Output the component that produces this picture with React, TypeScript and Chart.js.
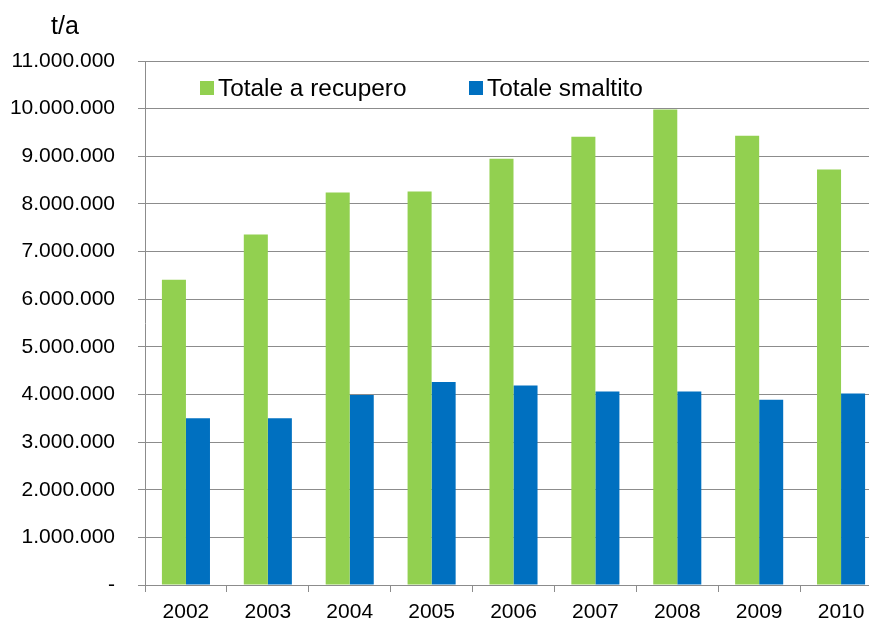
import React, { useEffect, useRef } from "react";
import { Chart, registerables } from "chart.js";

Chart.register(...registerables);

const years = ["2002", "2003", "2004", "2005", "2006", "2007", "2008", "2009", "2010"];
const recupero = [6410000, 7360000, 8240000, 8260000, 8950000, 9410000, 9980000, 9430000, 8720000];
const smaltito = [3500000, 3500000, 3990000, 4260000, 4190000, 4060000, 4060000, 3890000, 4020000];
const seriesNames = ["Totale a recupero", "Totale smaltito"];
const seriesColors = ["#92d050", "#0070c0"];
const unitLabel = "t/a";

const GRID = "#8c8c8c";
const FONT = "'Liberation Sans', Arial, sans-serif";

function fmt(v: number): string {
  if (v === 0) return "-";
  return Math.round(v).toString().replace(/\B(?=(\d{3})+(?!\d))/g, ".");
}

const overlay = {
  id: "overlay",
  afterDatasetsDraw(chart: any) {
    const ctx = chart.ctx;
    const area = chart.chartArea;
    ctx.save();
    ctx.fillStyle = "#000";
    ctx.font = `25px ${FONT}`;
    ctx.textAlign = "center";
    ctx.textBaseline = "alphabetic";
    ctx.fillText(unitLabel, 65, 34);
    ctx.font = `24.4px ${FONT}`;
    ctx.textAlign = "left";
    ctx.textBaseline = "middle";
    const cy = area.top + 27;
    const starts = [area.left + 55, area.left + 324];
    seriesNames.forEach((name, i) => {
      ctx.fillStyle = seriesColors[i];
      ctx.fillRect(starts[i], cy - 7, 14, 14);
      ctx.fillStyle = "#000";
      ctx.fillText(name, starts[i] + 18, cy + 1);
    });
    ctx.restore();
  },
};

export default function App() {
  const ref = useRef<HTMLCanvasElement | null>(null);
  useEffect(() => {
    document.body.style.margin = "0";
    document.body.style.overflow = "hidden";
    const canvas = ref.current;
    if (!canvas) return;
    const chart = new Chart(canvas, {
      type: "bar",
      data: {
        labels: years,
        datasets: [
          { label: seriesNames[0], data: recupero, backgroundColor: seriesColors[0] },
          { label: seriesNames[1], data: smaltito, backgroundColor: seriesColors[1] },
        ],
      },
      options: {
        responsive: false,
        animation: false,
        layout: { padding: { top: 61, left: 0, right: 0, bottom: 0 } },
        datasets: { bar: { categoryPercentage: 0.587, barPercentage: 1 } } as any,
        plugins: { legend: { display: false }, tooltip: { enabled: false } },
        scales: {
          x: {
            afterFit: (s: any) => { s.height = 38; },
            grid: {
              display: true,
              drawOnChartArea: false,
              drawTicks: true,
              tickLength: 7,
              color: GRID,
              offset: true,
            },
            border: { display: true, color: GRID, width: 1 },
            ticks: { color: "#000", font: { family: FONT, size: 21 }, padding: 8, maxRotation: 0 },
          },
          y: {
            min: 0,
            max: 11000000,
            afterFit: (s: any) => { s.width = 145; },
            grid: { color: GRID, lineWidth: 1, tickLength: 7 },
            border: { display: true, color: GRID, width: 1 },
            ticks: {
              stepSize: 1000000,
              color: "#000",
              font: { family: FONT, size: 21 },
              padding: 23,
              callback: (v: any) => fmt(Number(v)),
            },
          },
        },
      },
      plugins: [overlay],
    });
    return () => chart.destroy();
  }, []);
  return (
    <div style={{ width: 869, height: 623, overflow: "hidden" }}>
      <canvas ref={ref} width={882} height={623} style={{ display: "block", width: 882, height: 623 }} />
    </div>
  );
}
